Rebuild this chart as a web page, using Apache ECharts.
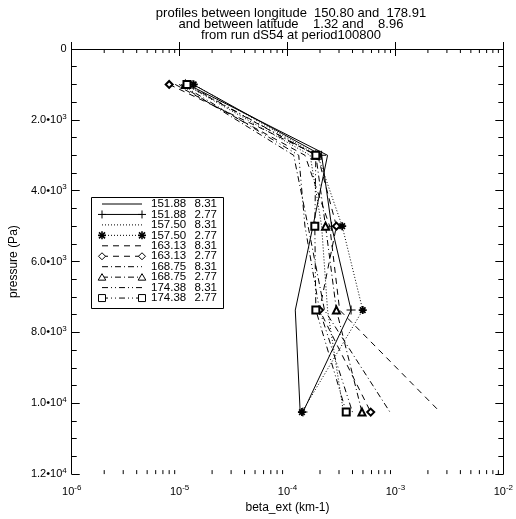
<!DOCTYPE html>
<html><head><meta charset="utf-8">
<script src="https://cdn.jsdelivr.net/npm/echarts@6/dist/echarts.min.js"></script>
<style>html,body{margin:0;padding:0;background:#fff}#c{width:516px;height:519px}</style>
</head><body><div id="c"></div><script>
// pressure levels (Pa)
const pressures = [1000, 3000, 5000, 7370, 10250];
// legend labels
const lons = ['151.88','151.88','157.50','157.50','163.13','163.13','168.75','168.75','174.38','174.38'];
const lats = ['8.31','2.77','8.31','2.77','8.31','2.77','8.31','2.77','8.31','2.77'];
// beta_ext (km-1) per series, one value per pressure level
const s1  = [1.19e-5, 2.35e-4, 1.72e-4, 1.18e-4, 1.31e-4];
const s2  = [1.33e-5, 2.07e-4, 2.56e-4, 3.88e-4, 1.39e-4];
const s3  = [1.12e-5, 1.62e-4, 2.07e-4, 2.35e-4, 3.30e-4];
const s4  = [1.35e-5, 1.90e-4, 3.21e-4, 4.98e-4, 1.36e-4];
const s5  = [9.1e-6, 1.45e-4, 2.46e-4, 3.04e-4, 2.60e-3];
const s6  = [8.0e-6, 1.90e-4, 2.84e-4, 1.98e-4, 5.90e-4];
const s7  = [9.9e-6, 1.14e-4, 1.55e-4, 2.20e-4, 8.90e-4];
const s8  = [1.13e-5, 1.83e-4, 2.25e-4, 2.84e-4, 4.90e-4];
const s9  = [1.03e-5, 1.27e-4, 1.45e-4, 1.98e-4, 4.00e-4];
const s10 = [1.17e-5, 1.83e-4, 1.79e-4, 1.83e-4, 3.50e-4];
const allValues = [s1, s2, s3, s4, s5, s6, s7, s8, s9, s10];
// tick labels
const xTickLabels = {'-6':'10{sup|-6}','-5':'10{sup|-5}','-4':'10{sup|-4}','-3':'10{sup|-3}','-2':'10{sup|-2}'};
const yTickLabels = {0:'0',2000:'2.0•10{sup|3}',4000:'4.0•10{sup|3}',6000:'6.0•10{sup|3}',8000:'8.0•10{sup|3}',10000:'1.0•10{sup|4}',12000:'1.2•10{sup|4}'};
const xMinorMantissa = [2,3,4,5,6,7,8,9];
const xDecades = [-6,-5,-4,-3];

const PLUS = 'path://M4,0H5V9H4Z M0,4H9V5H0Z';
const ASTER = 'path://M3.5,0H5.5V9H3.5Z M0,3.5H9V5.5H0Z M0.7,2.1L2.1,0.7L8.3,6.9L6.9,8.3Z M6.9,0.7L8.3,2.1L2.1,8.3L0.7,6.9Z';
const styles = [
  {type:'solid', sym:'none', k:null},
  {type:'solid', sym:PLUS, k:'plus'},
  {type:[1,2], sym:'none', k:null},
  {type:[1,2], sym:ASTER, k:'aster'},
  {type:[6,5], sym:'none', k:null},
  {type:[6,5], sym:'emptyDiamond', k:'diamond'},
  {type:[6,3,1,3], sym:'none', k:null},
  {type:[6,3,1,3], sym:'emptyTriangle', k:'triangle'},
  {type:[6,3,1,3,1,3], sym:'none', k:null},
  {type:[6,3,1,3,1,3], sym:'emptyRect', k:'rect'}
];
const names = lons.map((l,i)=> l + ' ' + lats[i]);
const FONT = 'Liberation Sans, Arial, Helvetica, sans-serif';
const rich = {sup:{fontSize:8, padding:[0,0,7,0], fontFamily:FONT, color:'#000'}};

const lineSeries = allValues.map((vals,i)=>({
  name: names[i], type:'line', xAxisIndex:0, yAxisIndex:0,
  data: pressures.map((p,j)=>[vals[j], p]),
  symbol: styles[i].sym, symbolSize: styles[i].k==='aster' ? 8 : (styles[i].k==='plus'?9:7),
  showSymbol: styles[i].sym!=='none',
  lineStyle:{color:'#000', width:1, type:styles[i].type},
  itemStyle:{color:'#000', borderWidth:1},
  animation:false, z:3
}));

const minorX = [];
xDecades.forEach(d=>xMinorMantissa.forEach(m=>minorX.push([m*Math.pow(10,d), 6000])));
const minorSeries = {
  type:'custom', xAxisIndex:0, yAxisIndex:0, silent:true, clip:false, animation:false,
  data: minorX,
  renderItem(params, api){
    const v = api.value(0);
    const b = api.coord([v, 12000]);
    const t = api.coord([v, 0]);
    return {type:'group', children:[
      {type:'line', shape:{x1:b[0],y1:b[1],x2:b[0],y2:b[1]-4}, style:{stroke:'#000',lineWidth:1}},
      {type:'line', shape:{x1:t[0],y1:t[1],x2:t[0],y2:t[1]+4}, style:{stroke:'#000',lineWidth:1}}
    ]};
  }
};

// hand-drawn legend (symbols at both ends of each sample line)
function symbolEls(k, x, y){
  const st = {stroke:'#000', fill:'#fff', lineWidth:1};
  if (k==='plus') return [
    {type:'line', shape:{x1:x-4,y1:y,x2:x+4,y2:y}, style:{stroke:'#000'}},
    {type:'line', shape:{x1:x,y1:y-4,x2:x,y2:y+4}, style:{stroke:'#000'}}];
  if (k==='aster') return [
    {type:'line', shape:{x1:x-4,y1:y,x2:x+4,y2:y}, style:{stroke:'#000',lineWidth:1.6}},
    {type:'line', shape:{x1:x,y1:y-4,x2:x,y2:y+4}, style:{stroke:'#000',lineWidth:1.6}},
    {type:'line', shape:{x1:x-3,y1:y-3,x2:x+3,y2:y+3}, style:{stroke:'#000',lineWidth:1.6}},
    {type:'line', shape:{x1:x-3,y1:y+3,x2:x+3,y2:y-3}, style:{stroke:'#000',lineWidth:1.6}}];
  if (k==='diamond') return [{type:'polygon', shape:{points:[[x,y-3.5],[x+3.5,y],[x,y+3.5],[x-3.5,y]]}, style:st}];
  if (k==='triangle') return [{type:'polygon', shape:{points:[[x,y-3.5],[x+3.8,y+3],[x-3.8,y+3]]}, style:st}];
  if (k==='rect') return [{type:'rect', shape:{x:x-3.5,y:y-3.5,width:7,height:7}, style:st}];
  return [];
}
const legendEls = [{type:'rect', shape:{x:91.5,y:197.5,width:132,height:111}, style:{fill:'#fff', stroke:'#000', lineWidth:1}}];
names.forEach((n,i)=>{
  const y = 204 + i*10.45;
  const dash = styles[i].type==='solid' ? null : styles[i].type;
  legendEls.push({type:'line', shape:{x1:102,y1:y,x2:142,y2:y}, style:{stroke:'#000', lineWidth:1, lineDash:dash}});
  symbolEls(styles[i].k, 102, y).forEach(e=>legendEls.push(e));
  symbolEls(styles[i].k, 142, y).forEach(e=>legendEls.push(e));
  legendEls.push({type:'text', x:151, y:y, style:{text:lons[i], fill:'#000', font:'11.5px '+FONT, textAlign:'left', textVerticalAlign:'middle', align:'left', verticalAlign:'middle'}});
  legendEls.push({type:'text', x:217, y:y, style:{text:lats[i], fill:'#000', font:'11.5px '+FONT, textAlign:'right', textVerticalAlign:'middle', align:'right', verticalAlign:'middle'}});
});

const chart = echarts.init(document.getElementById('c'), null, {renderer:'canvas'});
const axisLineS = {show:true, lineStyle:{color:'#000', width:1}};
chart.setOption({
  animation:false,
  backgroundColor:'#fff',
  title:{
    text:'profiles between longitude  150.80 and  178.91\nand between latitude    1.32 and    8.96\nfrom run dS54 at period100800',
    left:286, top:3, textAlign:'center',
    textStyle:{fontSize:13, fontWeight:'normal', color:'#000', lineHeight:11, fontFamily:FONT}
  },
  grid:{left:66, right:8, top:49, bottom:32, containLabel:false},
  graphic:{elements:[{type:'group', z:100, silent:true, children:legendEls}]},
  xAxis:[
    {type:'log', logBase:10, min:1e-6, max:1e-2, position:'bottom',
     name:'beta_ext (km-1)', nameLocation:'middle', nameGap:22,
     nameTextStyle:{fontSize:12, color:'#000', fontFamily:FONT},
     axisLine:axisLineS, axisTick:{show:true, inside:true, length:7, lineStyle:{color:'#000'}},
     splitLine:{show:false},
     axisLabel:{color:'#000', fontSize:11, fontFamily:FONT, margin:10,
       formatter:(v)=>xTickLabels[String(Math.round(Math.log10(v)))]||'', rich:rich}},
    {type:'log', logBase:10, min:1e-6, max:1e-2, position:'top',
     axisLine:axisLineS, axisTick:{show:true, inside:true, length:7, lineStyle:{color:'#000'}},
     splitLine:{show:false}, axisLabel:{show:false}}
  ],
  yAxis:[
    {type:'value', inverse:true, min:0, max:12000, interval:2000, position:'left',
     name:'pressure (Pa)', nameLocation:'middle', nameGap:47, nameRotate:90,
     nameTextStyle:{fontSize:12, color:'#000', fontFamily:FONT},
     axisLine:axisLineS, axisTick:{show:true, inside:true, length:8, lineStyle:{color:'#000'}},
     minorTick:{show:true, splitNumber:4, length:5, lineStyle:{color:'#000'}},
     splitLine:{show:false}, minorSplitLine:{show:false},
     axisLabel:{color:'#000', fontSize:11, fontFamily:FONT, margin:5,
       formatter:(v)=>yTickLabels[v]!==undefined?yTickLabels[v]:'', rich:rich}},
    {type:'value', inverse:true, min:0, max:12000, interval:2000, position:'right',
     axisLine:axisLineS, axisTick:{show:true, inside:true, length:8, lineStyle:{color:'#000'}},
     minorTick:{show:true, splitNumber:4, length:5, lineStyle:{color:'#000'}},
     splitLine:{show:false}, axisLabel:{show:false}}
  ],
  series: lineSeries.concat([minorSeries])
});
</script></body></html>
